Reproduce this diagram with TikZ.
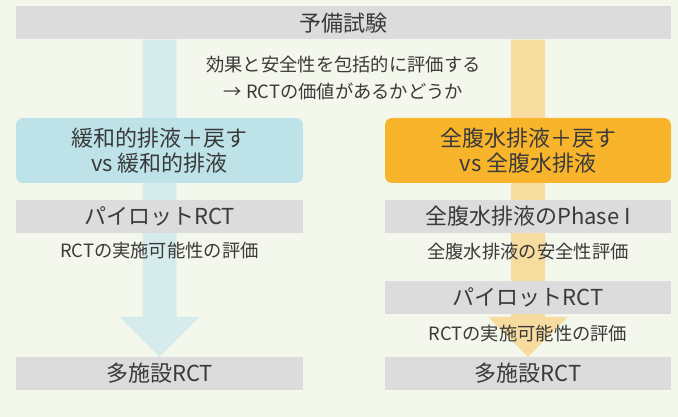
\documentclass[tikz,border=0pt]{standalone}
\usepackage{fontspec}
\setmainfont{Noto Sans CJK JP}
\usetikzlibrary{calc}
\definecolor{bgc}{HTML}{F4F7EC}
\definecolor{grayc}{HTML}{DCDCDC}
\definecolor{blueboxc}{HTML}{BDE3E8}
\definecolor{bluebarc}{HTML}{D6ECEC}
\definecolor{orangeboxc}{HTML}{F8B52C}
\definecolor{orangebarc}{HTML}{F7DCA0}
\definecolor{txtc}{HTML}{3A3A3A}
\newcommand{\mybigfont}{\fontsize{22}{25.5}\selectfont}
\newcommand{\mysmallfont}{\fontsize{18.3}{26}\selectfont}
\pgfdeclarelayer{bglayer}
\pgfdeclarelayer{arrlayer}
\pgfsetlayers{bglayer,arrlayer,main}
\tikzset{
  graybox/.style={fill=grayc, minimum height=33pt, inner sep=0pt, text=txtc, font=\mybigfont},
  colbox/.style={rounded corners=7pt, minimum height=65pt, inner sep=0pt, text=txtc, font=\mybigfont, align=center},
  smalltext/.style={inner sep=0pt, text=txtc, font=\mysmallfont, align=center},
}
\begin{document}
\begin{tikzpicture}[x=1pt,y=-1pt]
\useasboundingbox (0,0) rectangle (678,417);
\begin{pgfonlayer}{bglayer}
\fill[bgc] (0,0) rectangle (678,417);
\end{pgfonlayer}

% boxes
\node[graybox, minimum width=655pt] (top) at (343.5,23) {予備試験};
\node[smalltext] (mid1) at (343.5,65) {効果と安全性を包括的に評価する};
\node[smalltext] (mid2) at (343.5,91) {→ RCTの価値があるかどうか};

\node[colbox, fill=blueboxc, minimum width=287pt] (lcol) at (159.5,150.5) {緩和的排液＋戻す\\vs 緩和的排液};
\node[colbox, fill=orangeboxc, minimum width=286pt] (rcol) at (528,150.5) {全腹水排液＋戻す\\vs 全腹水排液};

\node[graybox, minimum width=287pt] (lpilot) at (159.5,216.5) {パイロットRCT};
\node[smalltext] (lfeas) at (159.5,251) {RCTの実施可能性の評価};
\node[graybox, minimum width=286pt] (rphase) at (528,216.5) {全腹水排液のPhase I};
\node[smalltext] (rsafe) at (528,252) {全腹水排液の安全性評価};
\node[graybox, minimum width=286pt] (rpilot) at (528,297) {パイロットRCT};
\node[smalltext] (rfeas) at (528,334) {RCTの実施可能性の評価};

\node[graybox, minimum width=287pt] (lmulti) at (159.5,373.5) {多施設RCT};
\node[graybox, minimum width=286pt] (rmulti) at (528,373.5) {多施設RCT};

% broad arrows behind the boxes
\begin{pgfonlayer}{arrlayer}
\fill[bluebarc] let \p1=(lmulti.north), \p2=(top.south) in
  (\x1-17pt,\y2) -- (\x1+17pt,\y2) -- (\x1+17pt,\y1+40pt) -- (\x1+40pt,\y1+40pt)
  -- (\x1,\y1) -- (\x1-40pt,\y1+40pt) -- (\x1-17pt,\y1+40pt) -- cycle;
\fill[orangebarc] let \p1=(rmulti.north), \p2=(top.south) in
  (\x1-17pt,\y2) -- (\x1+17pt,\y2) -- (\x1+17pt,\y1+40pt) -- (\x1+40pt,\y1+40pt)
  -- (\x1,\y1) -- (\x1-40pt,\y1+40pt) -- (\x1-17pt,\y1+40pt) -- cycle;
\end{pgfonlayer}
\end{tikzpicture}
\end{document}
